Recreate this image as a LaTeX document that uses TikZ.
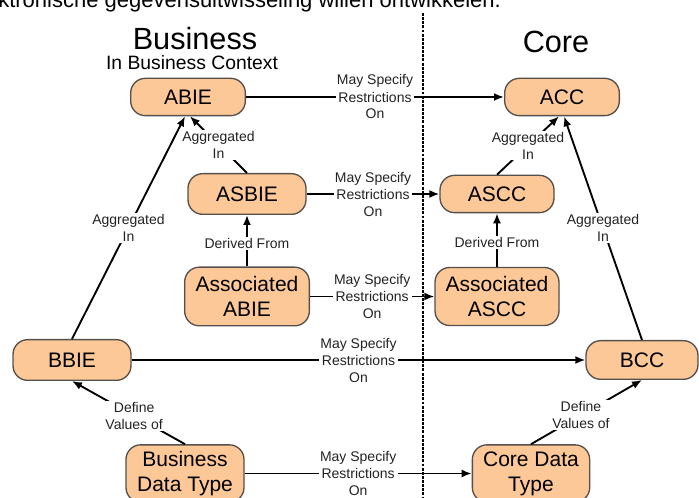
\documentclass[tikz,border=0pt]{standalone}
\usepackage{fontspec}
\setmainfont{Liberation Sans}
\usetikzlibrary{arrows.meta}

\definecolor{boxfill}{RGB}{252,200,152}
\definecolor{boxline}{RGB}{85,80,75}
\definecolor{labelgray}{RGB}{35,35,35}

\tikzstyle{ccbox} = [draw=boxline, fill=boxfill, line width=1pt,
    rectangle, inner sep=0pt, rounded corners=11pt, align=center,
    font=\fontsize{15.75}{18.75}\selectfont]
\tikzstyle{rel} = [line width=1.4pt, -{Latex[length=7.5pt,width=6pt]}]
\tikzstyle{rellabel} = [fill=white, inner sep=1pt, align=center, text=labelgray,
    font=\fontsize{10.5}{12.75}\selectfont]
\tikzstyle{divider} = [line width=1.8pt, dash pattern=on 2.2pt off 0.9pt]

\begin{document}
\begin{tikzpicture}[x=0.75pt, y=-0.75pt]
\useasboundingbox (0,0) rectangle (699,498);

% clipped line of the page above
\node[anchor=base west, inner sep=0pt, font=\fontsize{16.5}{19}\selectfont] (pagetext) at (-2,8)
    {ktronische gegevensuitwisseling willen ontwikkelen.};

% headings
\node[anchor=base, inner sep=0pt, font=\fontsize{23}{26}\selectfont] (business) at (195,50) {Business};
\node[anchor=base, inner sep=0pt, font=\fontsize{14.5}{17}\selectfont] (context) at (192,70) {In Business Context};
\node[anchor=base, inner sep=0pt, font=\fontsize{23}{26}\selectfont] (core) at (556,53) {Core};

% divider
\coordinate (divtop) at (423,13);
\coordinate (divbot) at (423,500);
\draw[divider] (divtop) -- (divbot);

% business side
\node[ccbox, minimum width=86pt, minimum height=28pt] (abie) at (188,97) {ABIE};
\node[ccbox, minimum width=88.5pt, minimum height=30.5pt] (asbie) at (247,194) {ASBIE};
\node[ccbox, minimum width=93.5pt, minimum height=44pt] (assocabie) at (247,296.5) {Associated\\ABIE};
\node[ccbox, minimum width=88.5pt, minimum height=30.5pt] (bbie) at (72,360) {BBIE};
\node[ccbox, minimum width=88.5pt, minimum height=43pt] (bdt) at (185,473.5) {Business\\Data Type};

% core side
\node[ccbox, minimum width=86pt, minimum height=28pt] (acc) at (562,97) {ACC};
\node[ccbox, minimum width=85.5pt, minimum height=28pt] (ascc) at (497,194) {ASCC};
\node[ccbox, minimum width=93pt, minimum height=43.5pt] (assocascc) at (497,296.5) {Associated\\ASCC};
\node[ccbox, minimum width=84pt, minimum height=29pt] (bcc) at (642,360) {BCC};
\node[ccbox, minimum width=88pt, minimum height=43pt] (cdt) at (531,473.5) {Core Data\\Type};

% restrictions across
\draw[rel] (abie) -- node[rellabel]{May Specify\\Restrictions\\On} (acc);
\draw[rel] (asbie) -- node[rellabel]{May Specify\\Restrictions\\On} (ascc);
\draw[rel] (assocabie) -- node[rellabel]{May Specify\\Restrictions\\On} (assocascc);
\draw[rel] (bbie) -- node[rellabel]{May Specify\\Restrictions\\On} (bcc);
\draw[rel] (bdt) -- node[rellabel]{May Specify\\Restrictions\\On} (cdt);

% aggregation and derivation
\draw[rel] (bbie.north) -- node[rellabel]{Aggregated\\In} ([xshift=-2.25pt]abie.south);
\draw[rel] (asbie.north) -- node[rellabel]{Aggregated\\In} ([xshift=1.5pt]abie.south);
\draw[rel] (bcc.north) -- node[rellabel]{Aggregated\\In} ([xshift=1.5pt]acc.south);
\draw[rel] (ascc.north) -- node[rellabel]{Aggregated\\In} ([xshift=-2.25pt]acc.south);
\draw[rel] (assocabie) -- node[rellabel, pos=0.45]{Derived From} (asbie);
\draw[rel] (assocascc) -- node[rellabel, pos=0.45]{Derived From} (ascc);

% value domains
\draw[rel] (bdt.north) -- node[rellabel, pos=0.45]{Define\\Values of} (bbie.south);
\draw[rel] (cdt.north) -- node[rellabel, pos=0.45]{Define\\Values of} (bcc.south);
\end{tikzpicture}
\end{document}
